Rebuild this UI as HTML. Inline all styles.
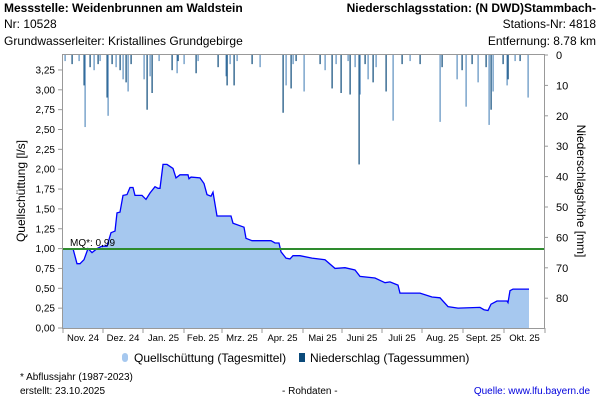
<!DOCTYPE html>
<html><head><meta charset="utf-8"><style>
body{margin:0;background:#fff;width:600px;height:400px;overflow:hidden;font-family:"Liberation Sans",sans-serif}
</style></head><body>
<svg width="600" height="400" xmlns="http://www.w3.org/2000/svg" font-family="Liberation Sans, sans-serif">
<g font-size="12">
<text x="4" y="12" font-weight="bold">Messstelle: Weidenbrunnen am Waldstein</text>
<text x="4" y="28">Nr: 10528</text>
<text x="4" y="45">Grundwasserleiter: Kristallines Grundgebirge</text>
<text x="596" y="12" font-weight="bold" text-anchor="end">Niederschlagsstation: (N DWD)Stammbach-</text>
<text x="596" y="28" text-anchor="end">Stations-Nr: 4818</text>
<text x="596" y="45" text-anchor="end">Entfernung: 8.78 km</text>
</g>
<path id="q" fill="#a6c8ef" stroke="none" d=""/>
<polyline id="ql" fill="none" stroke="#0000ff" stroke-width="1.3" points=""/>
<g id="bars"></g>
<line x1="62" y1="249" x2="544" y2="249" stroke="#2e8b2e" stroke-width="2"/>
<text x="70" y="246" font-size="10">MQ*: 0,99</text>
<rect x="62.5" y="54.5" width="482" height="274" fill="none" stroke="#999"/>
<g id="ax" font-size="10"></g>
<text transform="translate(25,191) rotate(-90)" font-size="12" text-anchor="middle">Quellschüttung [l/s]</text>
<text transform="translate(577,191) rotate(90)" font-size="12" text-anchor="middle">Niederschlagshöhe [mm]</text>
<g font-size="12">
<rect x="122" y="353" width="6" height="9" rx="3" fill="#a6c8ef"/>
<text x="134" y="362">Quellschüttung (Tagesmittel)</text>
<rect x="299" y="353" width="6" height="9" fill="#0b4a7a"/>
<text x="310" y="362">Niederschlag (Tagessummen)</text>
</g>
<g font-size="10">
<text x="20" y="380">* Abflussjahr (1987-2023)</text>
<text x="20" y="394">erstellt:  23.10.2025</text>
<text x="282" y="394">- Rohdaten -</text>
<text x="590" y="394" fill="#0000dd" text-anchor="end">Quelle: www.lfu.bayern.de</text>
</g>
</svg>
<script>
var pts=[[63,1.0],[73,1.0],[77,0.81],[80,0.81],[84,0.86],[88,1.0],[92,0.95],[97,1.0],[102,1.03],[107,1.03],[111,1.2],[115,1.22],[117,1.45],[120,1.46],[123,1.67],[127,1.68],[130,1.77],[133,1.77],[135,1.67],[142,1.67],[146,1.62],[150,1.7],[155,1.78],[158,1.76],[160,1.76],[163,2.06],[167,2.06],[173,2.01],[176,1.89],[180,1.93],[188,1.93],[189,1.88],[191,1.9],[200,1.89],[204,1.82],[207,1.68],[211,1.66],[213,1.71],[217,1.41],[231,1.41],[233,1.32],[244,1.27],[246,1.13],[252,1.1],[271,1.1],[275,1.07],[279,1.07],[281,0.96],[286,0.88],[290,0.87],[293,0.91],[300,0.91],[312,0.88],[325,0.86],[335,0.75],[345,0.76],[355,0.73],[360,0.65],[375,0.63],[385,0.57],[390,0.58],[398,0.54],[400,0.44],[420,0.44],[432,0.39],[440,0.38],[448,0.27],[458,0.25],[480,0.26],[484,0.23],[488,0.22],[491,0.3],[497,0.34],[507,0.34],[508,0.32],[510,0.47],[513,0.49],[529,0.49]];
function Y(v){return 328-v*79.4}
var s=pts.map(p=>p[0]+","+Y(p[1]).toFixed(1));
document.getElementById('ql').setAttribute('points',s.join(' '));
document.getElementById('q').setAttribute('d','M63,328 L'+s.join(' L')+' L529,328 Z');
var b=[[65,2],[72,3],[79,2],[84,10],[85,23.7],[90,4],[94,5],[98,3],[100,2],[107,14],[108,20],[112,3],[116,4],[120,5],[123,8],[126,9],[128,12],[131,3],[144,8],[147,18],[150,7],[152,12.5],[159,2],[172,5],[177,6],[178,2],[184,3],[196,6],[198,2],[218,4],[226,7],[227,10],[230,3],[234,10],[237,2],[252,3],[260,4],[283,19],[286,10],[291,11],[293,3],[296,2],[304,12],[320,3],[325,5],[332,11],[336,3],[341,12.5],[348,2],[350,13],[355,4],[359,36],[360,13],[365,3],[368,8],[373,9],[376,4],[386,12],[393,21.6],[402,3],[410,2],[420,3],[440,22],[442,4],[457,8],[462,5],[466,17],[472,3],[478,9],[486,4],[489,23],[491,18],[493,12],[503,3],[507,10],[508,8],[515,2],[520,2],[528,14]];
var g='';b.forEach((p,i)=>{g+='<rect x="'+(p[0]-0.5)+'" y="55" width="1.2" height="'+(p[1]*3.04)+'" fill="'+(i%2?'#0b4a7a':'#5b8fbf')+'"/>'});
document.getElementById('bars').innerHTML=g;
var a='';
for(var i=0;i<=13;i++){var v=i*0.25,y=Y(v);a+='<line x1="58" x2="62" y1="'+y+'" y2="'+y+'" stroke="#999"/><text x="55" y="'+(y+3.5)+'" text-anchor="end">'+v.toFixed(2).replace('.',',')+'</text>';}
for(var m=0;m<=80;m+=10){var y=55+m*3.04;a+='<line x1="544" x2="548" y1="'+y+'" y2="'+y+'" stroke="#999"/><text x="556" y="'+(y+4)+'" font-size="11">'+m+'</text>';}
var tk=[63,103,143,184,222,262,303,342,382,422,463,504,545];
var lb=['Nov. 24','Dez. 24','Jan. 25','Feb. 25','Mrz. 25','Apr. 25','Mai 25','Juni 25','Juli 25','Aug. 25','Sept. 25','Okt. 25'];
tk.forEach(x=>{a+='<line x1="'+x+'" x2="'+x+'" y1="328" y2="333" stroke="#999"/>'});
lb.forEach((l,i)=>{a+='<text x="'+((tk[i]+tk[i+1])/2)+'" y="341" text-anchor="middle" font-size="9.5">'+l+'</text>'});
document.getElementById('ax').innerHTML=a;
</script>
</body></html>
